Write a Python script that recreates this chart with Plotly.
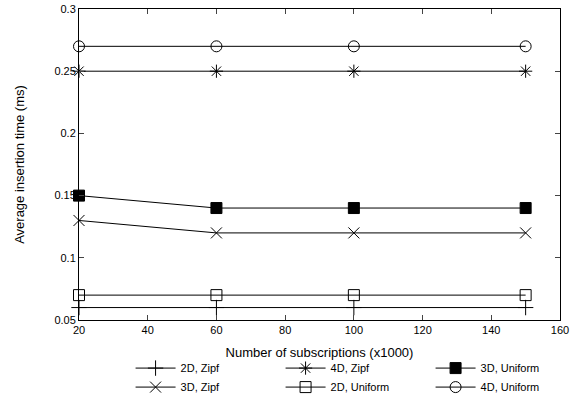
import plotly.graph_objects as go

x_vals = [20, 60, 100, 150]
zipf_2d = [0.06, 0.06, 0.06, 0.06]
zipf_3d = [0.13, 0.12, 0.12, 0.12]
zipf_4d = [0.25, 0.25, 0.25, 0.25]
unif_2d = [0.07, 0.07, 0.07, 0.07]
unif_3d = [0.15, 0.14, 0.14, 0.14]
unif_4d = [0.27, 0.27, 0.27, 0.27]

x_ticks = [20, 40, 60, 80, 100, 120, 140, 160]
y_ticks = [0.05, 0.1, 0.15, 0.2, 0.25, 0.3]
y_tick_text = ["0.05", "0.1", "0.15", "0.2", "0.25", "0.3"]

series = [
    ("2D, Zipf", zipf_2d, "cross-thin", 11, 1),
    ("4D, Zipf", zipf_4d, "asterisk", 11, 2),
    ("3D, Uniform", unif_3d, "square", 11, 3),
    ("3D, Zipf", zipf_3d, "x-thin", 11, 4),
    ("2D, Uniform", unif_2d, "square-open", 11, 5),
    ("4D, Uniform", unif_4d, "circle-open", 11, 6),
]

fig = go.Figure()
for name, ys, sym, sz, rank in series:
    fig.add_trace(go.Scatter(
        x=x_vals, y=ys, name=name, mode="lines+markers",
        line=dict(color="black", width=1),
        marker=dict(symbol=sym, size=sz, color="black",
                    line=dict(color="black", width=1)),
        legendrank=rank, cliponaxis=False,
    ))

font = dict(family="Liberation Sans, Arial, sans-serif", size=11, color="black")
fig.update_layout(
    width=586, height=398,
    margin=dict(l=79, r=26, t=9, b=78, autoexpand=False),
    paper_bgcolor="white", plot_bgcolor="white",
    font=font,
    showlegend=True,
    legend=dict(orientation="h", x=0.575, xanchor="center", y=-0.108, yanchor="top",
                entrywidth=95, font=font, tracegroupgap=0,
                itemwidth=40, bgcolor="rgba(0,0,0,0)"),
    xaxis=dict(range=[20, 160], tickvals=x_ticks, ticks="inside", ticklen=5,
               showline=True, linecolor="black", linewidth=1, mirror="allticks",
               showgrid=False, zeroline=False,
               title=dict(text="Number of subscriptions (x1000)", standoff=12)),
    yaxis=dict(range=[0.05, 0.3], tickvals=y_ticks, ticktext=y_tick_text,
               ticks="inside", ticklen=5,
               showline=True, linecolor="black", linewidth=1, mirror="allticks",
               showgrid=False, zeroline=False,
               title=dict(text="Average insertion time (ms)", standoff=26)),
)

fig.write_html("out.html")
